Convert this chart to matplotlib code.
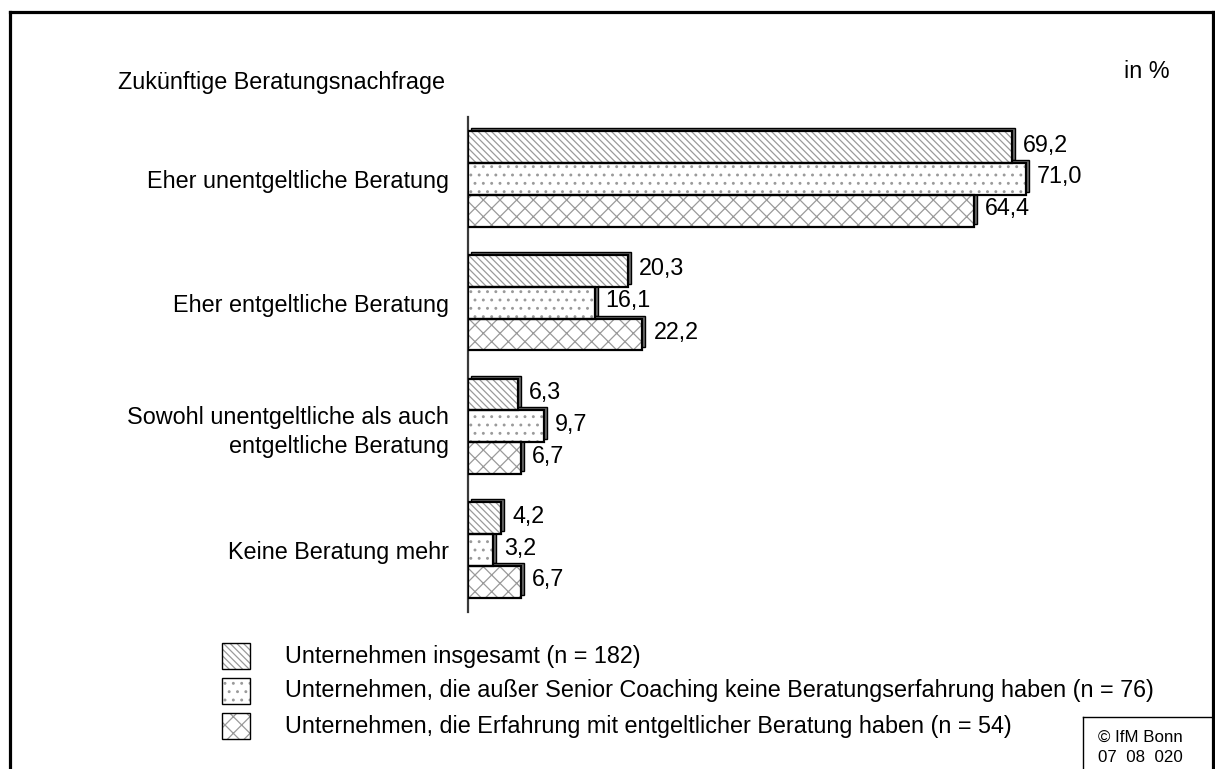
import matplotlib
matplotlib.use("Agg")
import matplotlib.pyplot as plt
from matplotlib.patches import Rectangle
from matplotlib.lines import Line2D
from matplotlib.transforms import offset_copy
import numpy as np

plt.rcParams["font.family"] = ["Liberation Sans", "DejaVu Sans"]
plt.rcParams["hatch.linewidth"] = 0.9

# ---- data ----
categories = [
    "Eher unentgeltliche Beratung",
    "Eher entgeltliche Beratung",
    "Sowohl unentgeltliche als auch\nentgeltliche Beratung",
    "Keine Beratung mehr",
]
series_names = [
    "Unternehmen insgesamt (n = 182)",
    "Unternehmen, die außer Senior Coaching keine Beratungserfahrung haben (n = 76)",
    "Unternehmen, die Erfahrung mit entgeltlicher Beratung haben (n = 54)",
]
total = [69.2, 20.3, 6.3, 4.2]
only_senior = [71.0, 16.1, 9.7, 3.2]
paid_exp = [64.4, 22.2, 6.7, 6.7]
series_values = [total, only_senior, paid_exp]
hatches = ["\\\\\\\\\\", "..", "xx"]

W, H, DPI = 1215, 769, 100
fig = plt.figure(figsize=(W / DPI, H / DPI), dpi=DPI)

# axes placed in pixel terms
ax_left, ax_right = 468, 468 + 85 * 7.86
ax_top, ax_bottom = 117, 612
ax = fig.add_axes([ax_left / W, 1 - ax_bottom / H,
                   (ax_right - ax_left) / W, (ax_bottom - ax_top) / H])
ax.set_xlim(0, 85)
ax.set_ylim(3.5, -0.5)

bar_h = 0.2567
y = np.arange(len(categories))
hatch_grey = "#9a9a9a"
FS = 16.8

shadow_tr = offset_copy(ax.transData, fig=fig, x=3, y=3, units="dots")

for k, (vals, hp) in enumerate(zip(series_values, hatches)):
    pos = y + (k - 1) * bar_h
    # extruded back face for the 3-D look
    sh = ax.barh(pos, vals, height=bar_h, left=0, color="#6e6e6e",
                 edgecolor="black", linewidth=1.0, zorder=2)
    for p in sh:
        p.set_transform(shadow_tr)
        p.set_clip_on(False)
    # hatched face
    ax.barh(pos, vals, height=bar_h, left=0, color="white",
            edgecolor=hatch_grey, linewidth=0, hatch=hp, zorder=3)
    # outline
    ax.barh(pos, vals, height=bar_h, left=0, fill=False,
            edgecolor="black", linewidth=1.6, zorder=4)
    lab_tr = offset_copy(ax.transData, fig=fig, x=11, y=2, units="dots")
    for v, py in zip(vals, pos):
        ax.text(v, py, f"{v:.1f}".replace(".", ","), transform=lab_tr,
                ha="left", va="center", fontsize=FS, zorder=5)

for s in ["top", "right", "bottom"]:
    ax.spines[s].set_visible(False)
ax.spines["left"].set_color("#3a3a3a")
ax.spines["left"].set_linewidth(1.6)
ax.spines["left"].set_zorder(1)
ax.set_xticks([])
ax.set_yticks(y)
ax.set_yticklabels(categories, fontsize=FS, linespacing=1.32)
ax.tick_params(axis="y", length=0, pad=14)
for t in ax.get_yticklabels():
    t.set_horizontalalignment("right")

# titles
fig.text(118 / W, 1 - 83 / H, "Zukünftige Beratungsnachfrage",
         fontsize=FS, ha="left", va="center")
fig.text(1170 / W, 1 - 71 / H, "in %", fontsize=FS, ha="right", va="center")

# legend
leg_rows = [656, 691, 726]
for name, hp, cy in zip(series_names, hatches, leg_rows):
    x0, w, h = 222, 28, 26
    rect_px = (x0 / W, 1 - (cy + h / 2) / H)
    fig.add_artist(Rectangle(rect_px, w / W, h / H, transform=fig.transFigure,
                             facecolor="white", edgecolor=hatch_grey,
                             linewidth=0, hatch=hp))
    fig.add_artist(Rectangle(rect_px, w / W, h / H, transform=fig.transFigure,
                             fill=False, edgecolor="black", linewidth=1.0))
    fig.text(285 / W, 1 - cy / H, name, fontsize=FS, ha="left", va="center")

# outer frame (open at the bottom)
fr = dict(color="black", linewidth=2.3, transform=fig.transFigure,
          solid_capstyle="projecting")
fig.add_artist(Line2D([10 / W, 10 / W], [0, 1 - 12 / H], **fr))
fig.add_artist(Line2D([10 / W, 1213 / W], [1 - 12 / H, 1 - 12 / H], **fr))
fig.add_artist(Line2D([1213 / W, 1213 / W], [0, 1 - 12 / H], **fr))

# copyright box
cb = dict(color="black", linewidth=1.0, transform=fig.transFigure)
fig.add_artist(Line2D([1083 / W, 1083 / W], [0, 1 - 717 / H], **cb))
fig.add_artist(Line2D([1083 / W, 1213 / W], [1 - 717 / H, 1 - 717 / H], **cb))
fig.text(1140 / W, 1 - 737 / H, "© IfM Bonn", fontsize=12.2,
         ha="center", va="center")
fig.text(1140 / W, 1 - 757 / H, "07  08  020", fontsize=12.2,
         ha="center", va="center")

fig.savefig("out.png", dpi=DPI, facecolor="white")
